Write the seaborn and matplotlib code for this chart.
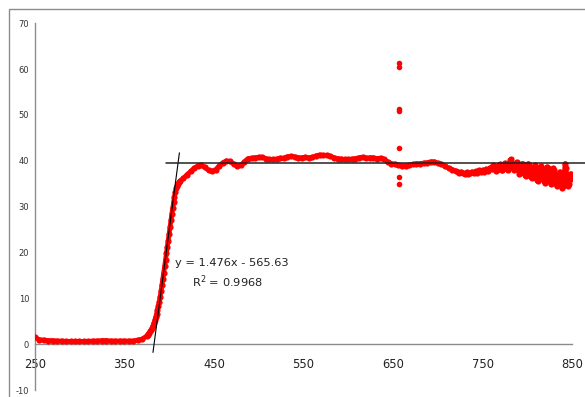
import numpy as np
import pandas as pd
import matplotlib
matplotlib.use("Agg")
import matplotlib.pyplot as plt
from matplotlib.patches import Rectangle
import seaborn as sns

# ---------------- data ----------------
wl_base = list(range(250, 376, 5))
ab_base = [1.5, 1.0, 0.9, 0.8, 0.8, 0.7, 0.7, 0.6, 0.6, 0.6, 0.6, 0.6, 0.6,
           0.7, 0.7, 0.8, 0.8, 0.7, 0.7, 0.7, 0.7, 0.7, 0.7, 0.9, 1.1, 1.8]

wl_rise = list(range(376, 412))
ab_rise = [2.0, 2.2, 2.5, 2.8, 3.1, 3.5, 4.0, 4.6, 5.2, 5.9, 6.6, 7.4, 8.3, 9.3,
           10.4, 11.6, 13.0, 14.3, 15.6, 17.0, 18.4, 19.8, 21.2, 22.6, 24.0,
           25.5, 27.0, 28.4, 29.7, 31.0, 32.2, 33.2, 34.0, 34.6, 35.0, 35.3]

wl_plat = list(range(412, 720, 4))
ab_plat = [35.6, 36.2, 37.0, 37.7, 38.4, 38.9, 39.0, 38.6, 37.9, 37.7,
           38.1, 38.9, 39.6, 40.0, 39.9, 39.3, 38.9, 39.0, 39.8, 40.5,
           40.6, 40.7, 40.8, 40.8, 40.5, 40.3, 40.3, 40.4, 40.6, 40.6,
           40.9, 41.0, 40.9, 40.7, 40.7, 40.8, 40.7, 40.8, 41.1, 41.3,
           41.2, 41.2, 41.0, 40.7, 40.5, 40.4, 40.3, 40.3, 40.4, 40.5,
           40.7, 40.8, 40.6, 40.7, 40.7, 40.5, 40.6, 40.3, 39.8, 39.4,
           39.3, 39.0, 38.9, 38.9, 39.0, 39.2, 39.4, 39.4, 39.5, 39.6,
           39.8, 39.8, 39.5, 39.3, 38.8, 38.4, 38.1]

wl_mid = list(range(720, 760, 2))
ab_mid = [37.8, 37.6, 37.4, 37.6, 37.3, 37.1, 37.5, 37.2, 37.4, 37.6,
          37.3, 37.7, 37.4, 37.9, 37.5, 38.0, 37.6, 38.2, 37.8, 38.5]

wl_tail = list(range(760, 850))
ab_tail = [38.2, 38.6, 39.0, 38.8, 38.2, 37.8, 37.9, 38.5, 39.1, 39.2,
           38.6, 38.0, 37.9, 38.4, 39.2, 39.5, 39.0, 38.3, 38.1, 38.7,
           39.6, 40.1, 40.3, 39.5, 38.5, 37.9, 38.3, 39.2, 39.7, 39.2,
           38.0, 37.2, 37.4, 38.5, 39.4, 39.3, 38.2, 37.0, 36.6, 37.3,
           38.6, 39.4, 39.0, 37.7, 36.5, 36.2, 37.0, 38.3, 39.0, 38.6,
           37.2, 35.9, 35.6, 36.5, 37.9, 38.8, 38.4, 36.9, 35.6, 35.2,
           36.0, 37.5, 38.7, 38.5, 37.0, 35.5, 34.9, 35.5, 37.0, 38.4,
           38.0, 36.5, 35.0, 34.4, 35.0, 36.5, 37.6, 37.3, 35.8, 34.0,
           34.6, 37.2, 39.4, 38.4, 36.2, 34.6, 35.0, 36.6, 37.2, 36.0]

spike_wl = [656.5, 656.5, 656.5, 656.5, 656.5, 656.8, 656.8]
spike_ab = [61.4, 60.5, 51.4, 50.9, 42.9, 36.4, 34.9]

fit_slope = 1.476
fit_intercept = -565.63
fit_range = [382.0, 411.5]
plateau_level = 39.5
plateau_range = [397.0, 870.0]

x_ticks = [250, 350, 450, 550, 650, 750, 850]
y_ticks = [-10, 0, 10, 20, 30, 40, 50, 60, 70]

wavelength = np.concatenate([wl_base, wl_rise, wl_plat, wl_mid, wl_tail])
absorb = np.concatenate([ab_base, ab_rise, ab_plat, ab_mid, ab_tail])
df = pd.DataFrame({"wl": wavelength, "ab": absorb})
spikes = pd.DataFrame({"wl": spike_wl, "ab": spike_ab})

# ---------------- figure ----------------
sns.set_style("white")
plt.rcParams["font.family"] = ["DejaVu Sans"]
plt.rcParams["axes.unicode_minus"] = False

fig = plt.figure(figsize=(5.85, 3.97), dpi=100)
ax = fig.add_axes([0.0593, 0.0176, 0.919, 0.9237])

red = "#ff0000"
ax.plot(df["wl"], df["ab"], color=red, linewidth=3.4, solid_capstyle="round",
        solid_joinstyle="round", zorder=2)
sns.scatterplot(data=df, x="wl", y="ab", color=red, s=20, linewidth=0, ax=ax,
                legend=False, zorder=3)
sns.scatterplot(data=spikes, x="wl", y="ab", color=red, s=16, linewidth=0,
                ax=ax, legend=False, zorder=3)

fx = np.array(fit_range)
ax.plot(fx, fit_slope * fx + fit_intercept, color="black", lw=0.8, zorder=4)
ax.plot(plateau_range, [plateau_level, plateau_level], color="#222222",
        lw=1.1, clip_on=False, zorder=4)

ax.text(406.3, 17.6, "y = 1.476x - 565.63", fontsize=8.2, va="center",
        ha="left", color="#222222")
ax.text(425.8, 13.7, r"R$^2$ = 0.9968", fontsize=8.2, va="center",
        ha="left", color="#222222")

ax.set_xlim(250, 850)
ax.set_ylim(-10, 70)
ax.set_xticks(x_ticks)
ax.set_yticks(y_ticks)
ax.set_xlabel("")
ax.set_ylabel("")

for s in ["top", "right"]:
    ax.spines[s].set_visible(False)
ax.spines["bottom"].set_position(("data", 0))
for s in ["left", "bottom"]:
    ax.spines[s].set_color("#8c8c8c")
    ax.spines[s].set_linewidth(1.0)

ax.tick_params(axis="x", direction="out", length=3, width=0.8,
               color="#8c8c8c", labelsize=8.3, labelcolor="#222222", pad=7)
ax.tick_params(axis="y", direction="out", length=3, width=0.8,
               color="#8c8c8c", labelsize=6, labelcolor="#333333", pad=1)
ax.set_facecolor("white")

fig.patches.append(Rectangle((9 / 585, -0.2), 1.3, 1 - 9 / 397 + 0.2,
                             transform=fig.transFigure, fill=False,
                             edgecolor="#8c8c8c", lw=1.0, zorder=10))

fig.savefig("out.png", dpi=100)
